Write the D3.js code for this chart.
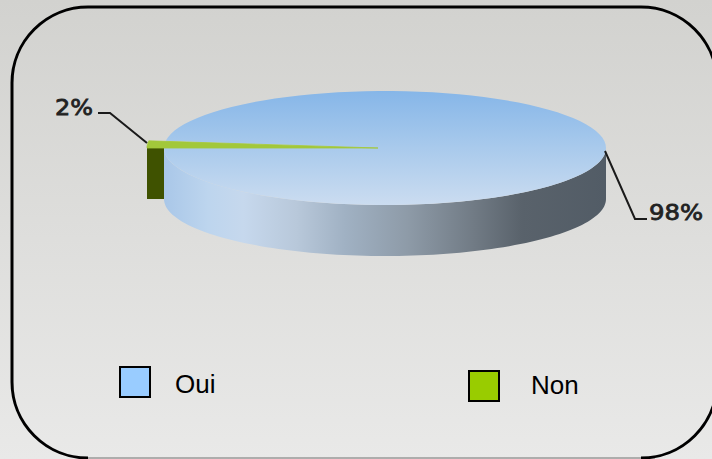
<!DOCTYPE html>
<html>
<head>
<meta charset="utf-8">
<script src="https://cdn.jsdelivr.net/npm/d3@7"></script>
<style>
  html, body { margin: 0; padding: 0; background: #fff; }
  svg { display: block; }
</style>
</head>
<body>
<div id="plot"></div>
<script>
// pie data
var categories = ["Oui", "Non"];
var values = [98, 2];
var pctLabels = ["98%", "2%"];
var colors = ["#99ccff", "#99cc00"];

var width = 712, height = 459;

var svg = d3.select("div#plot").append("svg")
    .attr("width", width)
    .attr("height", height);

var defs = svg.append("defs");

function gradient(id, x2, y2, stops) {
  var g = defs.append("linearGradient").attr("id", id)
      .attr("x1", 0).attr("y1", 0).attr("x2", x2).attr("y2", y2);
  stops.forEach(function(s) {
    g.append("stop").attr("offset", s[0]).attr("stop-color", s[1]);
  });
}

gradient("bg", 0, 1, [[0, "#d2d2cf"], [1, "#e9e9e8"]]);
gradient("top", 0, 1, [[0, "#86b6e8"], [0.5, "#a9caec"], [1, "#cbdcf0"]]);
gradient("side", 1, 0, [[0, "#a9c7e8"], [0.1, "#bdd5ee"], [0.18, "#c6d8ed"], [0.3, "#b8c8da"], [0.41, "#a0b1c3"], [0.55, "#8e9ba8"], [0.7, "#717b85"], [0.81, "#59626b"], [1, "#525c66"]]);

// background and rounded frame
svg.append("rect")
    .attr("width", width)
    .attr("height", height)
    .attr("fill", "url(#bg)");

svg.append("line")
    .attr("x1", 80).attr("x2", 655)
    .attr("y1", 458).attr("y2", 458)
    .attr("stroke", "#999")
    .attr("stroke-width", 1.5);

svg.append("path")
    .attr("d", "M12,382V83A76,76 0 0 1 88,7H641A76,76 0 0 1 717,83V382A76,76 0 0 1 641,458M88,458A76,76 0 0 1 12,382")
    .attr("fill", "none")
    .attr("stroke", "#000")
    .attr("stroke-width", 3);

// 3d pie, d3.pie gives the angles and the ellipse is squashed by the scales
var cx = 385, cy = 148, rx = 221, ry = 57, depth = 51;

var arcs = d3.pie().sort(null).startAngle(-Math.PI / 2).endAngle(3 * Math.PI / 2)
    .value(function(d) { return d; })(values.slice().reverse());

var x = d3.scaleLinear().domain([-1, 1]).range([cx - rx, cx + rx]);
var y = d3.scaleLinear().domain([-1, 1]).range([cy - ry, cy + ry]);

function px(a) { return x(Math.sin(a)); }
function py(a) { return y(-Math.cos(a)); }

function wedge(a0, a1) {
  return d3.range(0, 101).map(function(i) {
    var a = a0 + (a1 - a0) * i / 100;
    return [px(a), py(a)];
  });
}

var line = d3.line();

var non = arcs[0], oui = arcs[1];
var tip = [x(0) - 7, y(0)];

// front wall of the big slice
var wallAngles = wedge(Math.PI / 2, 3 * Math.PI / 2);
var wall = wallAngles.concat(wallAngles.slice().reverse().map(function(p) { return [p[0], p[1] + depth]; }));
svg.append("path")
    .attr("d", line(wall) + "Z")
    .attr("fill", "url(#side)");

// top of big slice
svg.append("path")
    .attr("d", line([tip].concat(wedge(oui.startAngle, oui.endAngle))) + "Z")
    .attr("fill", "url(#top)");

// exploded green slice
var offset = -17;
var green = [tip].concat(wedge(non.startAngle, non.endAngle).map(function(p) { return [p[0] + offset, p[1]]; }));
var gx0 = d3.min(green, function(p) { return p[0]; });
svg.append("rect")
    .attr("x", gx0)
    .attr("y", y(0))
    .attr("width", x(-1) - gx0)
    .attr("height", depth)
    .attr("fill", "#3f5200");
svg.append("path")
    .attr("d", line(green) + "Z")
    .attr("fill", "#a2c83a")
    .attr("stroke", "#a2c83a")
    .attr("stroke-width", 0.8);

// leader lines
var leaders = [
  [[x(1) - 1, y(0) + 3], [635, 219], [647, 219]],
  [[147, 143], [110, 113], [98, 113]]
];
svg.selectAll(".leader")
    .data(leaders)
    .enter().append("path")
    .attr("class", "leader")
    .attr("d", line)
    .attr("fill", "none")
    .attr("stroke", "#1a1a1a")
    .attr("stroke-width", 2);

var labelPos = [[649, 220], [55, 115]];
var labelLen = [54, 38];
svg.selectAll(".pct")
    .data(pctLabels)
    .enter().append("text")
    .attr("class", "pct")
    .attr("x", function(d, i) { return labelPos[i][0]; })
    .attr("y", function(d, i) { return labelPos[i][1]; })
    .attr("textLength", function(d, i) { return labelLen[i]; })
    .attr("lengthAdjust", "spacingAndGlyphs")
    .style("font-family", "DejaVu Sans")
    .style("font-size", "22px")
    .attr("fill", "#222")
    .attr("stroke", "#222")
    .attr("stroke-width", 0.8)
    .text(function(d) { return d; });

// legend
var legendPos = [[119, 366], [468, 370]];
var legend = svg.selectAll(".legend")
    .data(categories)
    .enter().append("g")
    .attr("class", "legend")
    .attr("transform", function(d, i) { return "translate(" + legendPos[i][0] + "," + legendPos[i][1] + ")"; });

legend.append("rect")
    .attr("x", 1).attr("y", 1)
    .attr("width", 30).attr("height", 30)
    .attr("fill", function(d, i) { return colors[i]; })
    .attr("stroke", "#000")
    .attr("stroke-width", 2);

legend.append("text")
    .attr("x", function(d, i) { return i == 0 ? 56 : 63; })
    .attr("y", function(d, i) { return i == 0 ? 27 : 24; })
    .style("font-family", "Liberation Sans")
    .style("font-size", "26px")
    .attr("fill", "#000")
    .text(function(d) { return d; });
</script>
</body>
</html>
